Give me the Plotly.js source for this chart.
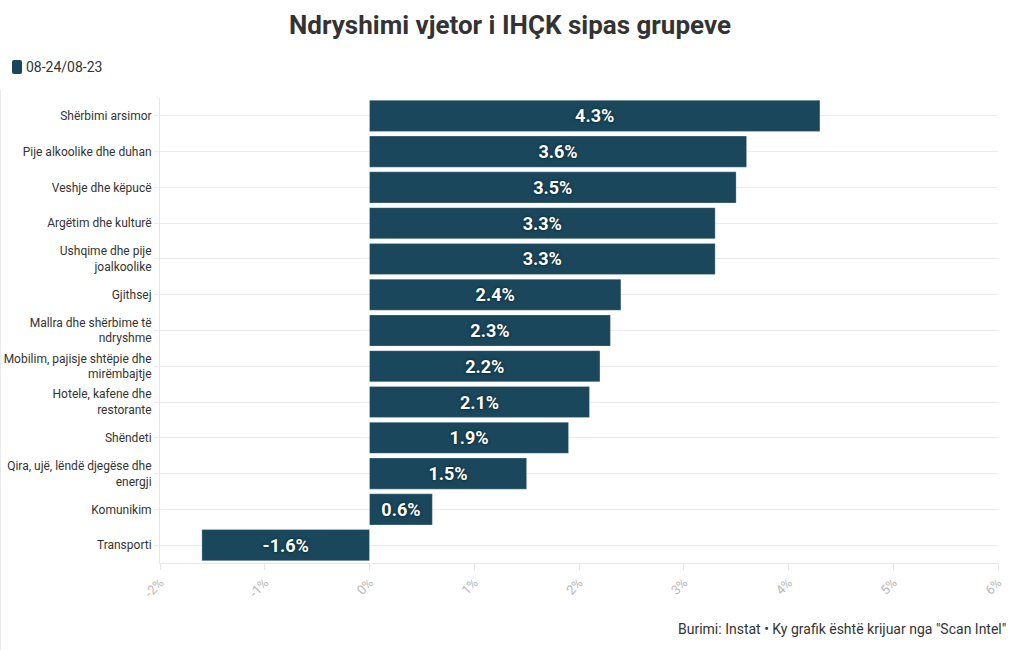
<!DOCTYPE html>
<html>
<head>
<meta charset="utf-8">
<script src="https://cdn.plot.ly/plotly-3.0.1.min.js"></script>
<style>html,body{margin:0;padding:0;background:#fff;}#chart{width:1020px;height:650px;}</style>
</head>
<body>
<div id="chart"></div>
<script>
const categories = [
  "Shërbimi arsimor",
  "Pije alkoolike dhe duhan",
  "Veshje dhe këpucë",
  "Argëtim dhe kulturë",
  "Ushqime dhe pije<br>joalkoolike",
  "Gjithsej",
  "Mallra dhe shërbime të<br>ndryshme",
  "Mobilim, pajisje shtëpie dhe<br>mirëmbajtje",
  "Hotele, kafene dhe<br>restorante",
  "Shëndeti",
  "Qira, ujë, lëndë djegëse dhe<br>energji",
  "Komunikim",
  "Transporti"
];
const values = [4.3, 3.6, 3.5, 3.3, 3.3, 2.4, 2.3, 2.2, 2.1, 1.9, 1.5, 0.6, -1.6];
const seriesName = "08-24/08-23";
const tickValues = [-2, -1, 0, 1, 2, 3, 4, 5, 6];
const tickLabels = ["-2%", "-1%", "0%", "1%", "2%", "3%", "4%", "5%", "6%"];

const barColor = "#1a475b";
const font = "Roboto, 'Noto Sans', sans-serif";

const trace = {
  type: "bar",
  orientation: "h",
  name: seriesName,
  y: categories,
  x: values,
  text: values.map(v => v.toFixed(1) + "%"),
  textposition: "inside",
  insidetextanchor: "middle",
  constraintext: "none",
  textfont: {family: font, size: 18, color: "#ffffff", weight: 700, shadow: "0px 0px 3px #061820"},
  marker: {color: barColor, line: {color: "rgba(255,255,255,0.25)", width: 1}},
  hoverinfo: "x+y",
  showlegend: false
};

// plot area: x 160..998, y 98..563  (838 x 465)
const px = x => (x - 160) / 838;
const py = y => (563 - y) / 465;

const layout = {
  width: 1020, height: 650,
  paper_bgcolor: "#ffffff", plot_bgcolor: "#ffffff",
  margin: {l: 160, r: 22, t: 98, b: 87},
  font: {family: font, color: "#333333"},
  bargap: 0.13,
  title: {
    text: "<b>Ndryshimi vjetor i IHÇK sipas grupeve</b>",
    font: {family: font, size: 26, color: "#333333"},
    x: 0.5, xanchor: "center", xref: "container",
    y: 0.962, yanchor: "middle", yref: "container"
  },
  showlegend: false,
  xaxis: {
    range: [-2, 6],
    tickvals: tickValues, ticktext: tickLabels,
    tickangle: -45,
    tickfont: {family: font, size: 13, color: "#b8b8b8"},
    showgrid: false, zeroline: false,
    showline: true, linecolor: "#e6e6e6", linewidth: 1,
    ticks: "outside", ticklen: 6, tickcolor: "#e6e6e6"
  },
  yaxis: {
    autorange: "reversed",
    type: "category",
    tickfont: {family: font, size: 12, color: "#333333"},
    showgrid: true, gridcolor: "#ececec", gridwidth: 1,
    showline: true, linecolor: "#e6e6e6", linewidth: 1,
    ticks: "outside", ticklen: 5, tickcolor: "#ececec",
    zeroline: false
  },
  shapes: [
    {type: "line", xref: "paper", yref: "paper", x0: px(0.5), x1: px(0.5), y0: py(650), y1: py(90),
     line: {color: "#e8e8e8", width: 1}},
    {type: "path", xref: "paper", yref: "paper",
     path: `M ${px(14)} ${py(60)} L ${px(20)} ${py(60)} Q ${px(22)} ${py(60)} ${px(22)} ${py(62)} L ${px(22)} ${py(72)} Q ${px(22)} ${py(74)} ${px(20)} ${py(74)} L ${px(14)} ${py(74)} Q ${px(12)} ${py(74)} ${px(12)} ${py(72)} L ${px(12)} ${py(62)} Q ${px(12)} ${py(60)} ${px(14)} ${py(60)} Z`,
     fillcolor: barColor, line: {width: 0}}
  ],
  annotations: [
    {text: seriesName,
     xref: "paper", yref: "paper", x: px(24), y: py(67),
     xanchor: "left", yanchor: "middle", showarrow: false,
     font: {family: font, size: 14, color: "#333333"}},
    {text: "Burimi: Instat • Ky grafik është krijuar nga \"Scan Intel\"",
     xref: "paper", yref: "paper", x: px(1008), y: py(629),
     xanchor: "right", yanchor: "middle", showarrow: false,
     font: {family: font, size: 14, color: "#333333"}}
  ]
};

Plotly.newPlot("chart", [trace], layout, {displayModeBar: false, responsive: false});
</script>
</body>
</html>
